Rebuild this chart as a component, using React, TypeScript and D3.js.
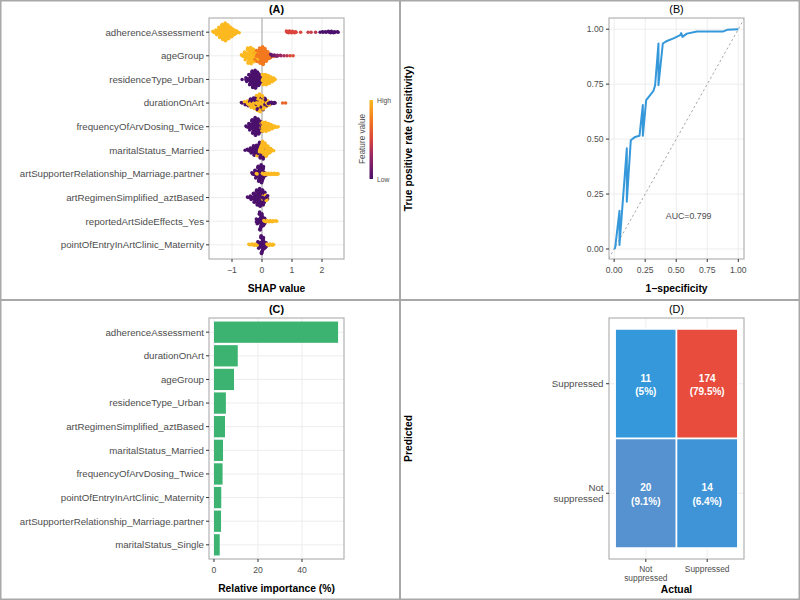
import React from "react";
import * as d3 from "d3";

const FONT = "'Liberation Sans', Arial, Helvetica, sans-serif";

// ---------- Panel A: SHAP beeswarm ----------
type Bin = [number, number, number]; // [shap value, count, feature value 0..1]

const shapFeatures = [
  "adherenceAssessment",
  "ageGroup",
  "residenceType_Urban",
  "durationOnArt",
  "frequencyOfArvDosing_Twice",
  "maritalStatus_Married",
  "artSupporterRelationship_Marriage.partner",
  "artRegimenSimplified_aztBased",
  "reportedArtSideEffects_Yes",
  "pointOfEntryInArtClinic_Maternity",
];

const shapAdherence: Bin[] = [
  [-1.6, 3, 1], [-1.5, 8, 1], [-1.4, 16, 1], [-1.3, 22, 1], [-1.2, 26, 1],
  [-1.1, 20, 1], [-1.0, 14, 1], [-0.9, 7, 1], [-0.8, 3, 1],
  [0.85, 4, 0.5], [0.95, 4, 0.5], [1.05, 3, 0.5], [1.15, 2, 0.5], [1.3, 1, 0.5],
  [1.55, 1, 0.45], [1.65, 1, 0.45], [1.8, 1, 0.4],
  [1.95, 1, 0], [2.05, 2, 0], [2.15, 2, 0], [2.25, 3, 0], [2.35, 3, 0], [2.45, 2, 0], [2.55, 2, 0],
];
const shapAgeGroup: Bin[] = [
  [-0.65, 4, 1], [-0.55, 12, 1], [-0.45, 22, 1], [-0.35, 24, 1], [-0.25, 14, 1],
  [-0.25, 4, 0.75], [-0.15, 5, 1], [-0.15, 12, 0.75], [-0.05, 22, 0.75], [0.05, 26, 0.75],
  [0.15, 16, 0.75], [0.25, 6, 0.75], [0.25, 2, 0.1], [0.35, 3, 0.1], [0.35, 1, 0.75],
  [0.45, 3, 0.15], [0.55, 2, 0.25], [0.65, 2, 0.3], [0.75, 1, 0.35], [0.85, 1, 0.4],
  [0.95, 1, 0.5], [1.05, 1, 0.55],
];
const shapResidence: Bin[] = [
  [-0.65, 1, 0], [-0.5, 6, 0], [-0.4, 16, 0], [-0.3, 24, 0], [-0.2, 26, 0], [-0.1, 18, 0], [0.0, 6, 0],
  [0.05, 16, 1], [0.15, 16, 1], [0.25, 12, 1], [0.35, 7, 1], [0.45, 2, 1],
];
const shapDuration: Bin[] = [
  [-0.65, 2, 0], [-0.55, 3, 0], [-0.45, 4, 0], [-0.35, 5, 0], [-0.25, 6, 0], [-0.15, 6, 0],
  [-0.05, 6, 0], [0.05, 6, 0], [0.15, 5, 0], [0.25, 4, 0], [0.35, 3, 0], [0.45, 2, 0],
  [-0.55, 2, 1], [-0.45, 4, 1], [-0.35, 8, 1], [-0.25, 10, 1], [-0.15, 16, 1], [-0.05, 20, 1],
  [0.05, 14, 1], [0.15, 6, 1], [0.25, 2, 1],
  [0.7, 1, 0.65], [0.8, 1, 0.65],
];
const shapFrequency: Bin[] = [
  [-0.5, 3, 0], [-0.4, 10, 0], [-0.3, 20, 0], [-0.2, 26, 0], [-0.1, 22, 0], [0.0, 10, 0], [0.0, 4, 1],
  [0.05, 14, 1], [0.15, 14, 1], [0.25, 10, 1], [0.35, 6, 1], [0.45, 3, 1], [0.55, 1, 1],
];
const shapMarried: Bin[] = [
  [-0.55, 1, 0], [-0.45, 4, 0], [-0.35, 8, 0], [-0.25, 14, 0], [-0.15, 14, 0], [-0.05, 8, 0],
  [0.05, 3, 0], [0.15, 1, 0],
  [-0.15, 2, 1], [-0.05, 14, 1], [0.05, 22, 1], [0.15, 16, 1], [0.25, 8, 1], [0.35, 3, 1],
];
const shapSupporter: Bin[] = [
  [-0.3, 4, 0], [-0.2, 12, 0], [-0.1, 22, 0], [0.0, 26, 0], [0.1, 6, 0],
  [-0.15, 2, 1], [0.05, 3, 1], [0.15, 3, 1], [0.25, 3, 1], [0.35, 3, 1], [0.45, 3, 1], [0.55, 2, 1],
];
const shapRegimen: Bin[] = [
  [-0.45, 2, 0], [-0.35, 6, 0], [-0.25, 14, 0], [-0.15, 22, 0], [-0.05, 26, 0], [0.05, 20, 0], [0.15, 6, 0],
  [0.05, 2, 1], [0.15, 3, 1],
];
const shapSideEffects: Bin[] = [
  [-0.15, 8, 0], [-0.05, 26, 0], [0.05, 14, 0],
  [0.1, 3, 1], [0.2, 3, 1], [0.3, 3, 1], [0.4, 2, 1], [0.5, 2, 1],
];
const shapMaternity: Bin[] = [
  [-0.1, 10, 0], [0.0, 26, 0], [0.1, 10, 0],
  [-0.4, 2, 1], [-0.3, 3, 1], [-0.2, 3, 1], [0.2, 3, 1], [0.3, 3, 1], [0.4, 2, 1],
];
const shapRows: Bin[][] = [
  shapAdherence, shapAgeGroup, shapResidence, shapDuration, shapFrequency,
  shapMarried, shapSupporter, shapRegimen, shapSideEffects, shapMaternity,
];
const shapTicks = [-1, 0, 1, 2];

// ---------- Panel B: ROC ----------
const rocFpr = [0, 0.008, 0.043, 0.043, 0.102, 0.102, 0.134, 0.169, 0.204, 0.231, 0.231, 0.258, 0.29, 0.317, 0.33, 0.357, 0.357, 0.392, 0.42, 0.478, 0.532, 0.54, 0.55, 0.586, 0.667, 0.88, 0.91, 1.0];
const rocTpr = [0, 0.005, 0.174, 0.018, 0.458, 0.215, 0.495, 0.51, 0.515, 0.655, 0.515, 0.677, 0.7, 0.72, 0.745, 0.935, 0.745, 0.935, 0.945, 0.958, 0.973, 0.982, 0.965, 0.98, 0.99, 0.99, 0.997, 1.0];
const rocTicks = [0, 0.25, 0.5, 0.75, 1];
const aucLabel = "AUC=0.799";

// ---------- Panel C: importance ----------
const impFeatures = [
  "adherenceAssessment",
  "durationOnArt",
  "ageGroup",
  "residenceType_Urban",
  "artRegimenSimplified_aztBased",
  "maritalStatus_Married",
  "frequencyOfArvDosing_Twice",
  "pointOfEntryInArtClinic_Maternity",
  "artSupporterRelationship_Marriage.partner",
  "maritalStatus_Single",
];
const impValues = [56.4, 10.8, 9.1, 5.4, 5.0, 4.1, 3.9, 3.3, 3.2, 2.6];
const impTicks = [0, 20, 40];

// ---------- Panel D: confusion matrix ----------
const cmActual = ["Not suppressed", "Suppressed"];
const cmPredicted = ["Not suppressed", "Suppressed"];
const cmCellActual = [0, 1, 0, 1];
const cmCellPredicted = [1, 1, 0, 0];
const cmCounts = [11, 174, 20, 14];
const cmPercents = ["5%", "79.5%", "9.1%", "6.4%"];
const cmFills = ["#3498db", "#e74c3c", "#5592cf", "#3f94d8"];

// ---------- styles ----------
const featureColor = d3
  .scaleLinear<string>()
  .domain([0, 0.3, 0.5, 0.75, 1])
  .range(["#4b116c", "#9a2865", "#d9443d", "#f3791f", "#fcb920"]);

const GRID = "#ebebeb";
const BORDER = "#b3b3b3";
const TICKTXT = "#4d4d4d";

function layoutRow(bins: Bin[]) {
  const groups = d3.groups(bins, (b) => b[0]);
  const maxN = d3.max(groups, (g) => d3.sum(g[1], (b) => b[1])) || 1;
  const dots: { x: number; dy: number; v: number }[] = [];
  groups.forEach(([x, entries]) => {
    const N = d3.sum(entries, (e) => e[1]);
    const h = (9.2 * N) / maxN;
    const assigned = entries.map(() => 0);
    for (let k = 0; k < N; k++) {
      let best = 0;
      let bestD = -Infinity;
      entries.forEach((e, i) => {
        const d = ((k + 1) * e[1]) / N - assigned[i];
        if (d > bestD) {
          bestD = d;
          best = i;
        }
      });
      assigned[best]++;
      const fy = N === 1 ? 0.5 : (k * 0.6180339887 + 0.5) % 1;
      const fx = (k * 0.7548776662 + 0.37) % 1;
      dots.push({ x: x + (fx - 0.5) * 0.1, dy: (fy * 2 - 1) * h, v: entries[best][2] });
    }
  });
  return dots;
}

const PanelA = () => {
  const L = 209, R = 344, T = 18, B = 259;
  const x = d3.scaleLinear().domain([-1.767, 2.733]).range([L, R]);
  const y = d3.scalePoint<string>().domain(shapFeatures).range([T, B]).padding(0.6);
  const grad = featureColor.domain();
  return (
    <g>
      <text x={(L + R) / 2} y={13} textAnchor="middle" fontWeight="bold" fontSize={10.8} fill="#000">(A)</text>
      <rect x={L} y={T} width={R - L} height={B - T} fill="#fff" />
      {shapTicks.map((t) => (
        <line key={t} x1={x(t)} x2={x(t)} y1={T} y2={B} stroke={GRID} strokeWidth={0.9} />
      ))}
      {shapFeatures.map((f) => (
        <line key={f} x1={L} x2={R} y1={y(f)} y2={y(f)} stroke={GRID} strokeWidth={0.9} />
      ))}
      <line x1={x(0)} x2={x(0)} y1={T} y2={B} stroke="#9e9e9e" strokeWidth={0.9} />
      {shapRows.map((row, i) => {
        const cy = y(shapFeatures[i]) as number;
        return (
          <g key={i}>
            {layoutRow(row).map((d, j) => (
              <circle key={j} cx={x(d.x)} cy={cy + d.dy} r={1.75} fill={featureColor(d.v)} />
            ))}
          </g>
        );
      })}
      <rect x={L} y={T} width={R - L} height={B - T} fill="none" stroke={BORDER} strokeWidth={1.2} />
      {shapFeatures.map((f) => (
        <g key={f}>
          <line x1={L - 3} x2={L} y1={y(f)} y2={y(f)} stroke="#333" strokeWidth={1} />
          <text x={L - 5} y={(y(f) as number) + 3.4} textAnchor="end" fontSize={9.7} fill={TICKTXT}>{f}</text>
        </g>
      ))}
      {shapTicks.map((t) => (
        <g key={t}>
          <line x1={x(t)} x2={x(t)} y1={B} y2={B + 3} stroke="#333" strokeWidth={1} />
          <text x={x(t)} y={273} textAnchor="middle" fontSize={8.6} fill={TICKTXT}>{t < 0 ? "\u2212" + Math.abs(t) : t}</text>
        </g>
      ))}
      <text x={(L + R) / 2} y={292} textAnchor="middle" fontWeight="bold" fontSize={10.3} fill="#000">SHAP value</text>
      {/* legend */}
      <defs>
        <linearGradient id="fvGrad" x1="0" y1="1" x2="0" y2="0">
          {grad.map((g) => (
            <stop key={g} offset={g} stopColor={featureColor(g)} />
          ))}
        </linearGradient>
      </defs>
      <rect x={369.5} y={100} width={3.5} height={79} fill="url(#fvGrad)" />
      <text x={377} y={102.5} fontSize={6.8} fill={TICKTXT}>High</text>
      <text x={377} y={182} fontSize={6.8} fill={TICKTXT}>Low</text>
      <text transform="translate(364.5,139) rotate(-90)" textAnchor="middle" fontSize={8.2} fill={TICKTXT}>Feature value</text>
    </g>
  );
};

const PanelB = () => {
  const L = 609, R = 744, T = 18, B = 259;
  const x = d3.scaleLinear().domain([-0.0415, 1.046]).range([L, R]);
  const y = d3.scaleLinear().domain([-0.0455, 1.051]).range([B, T]);
  const pts = rocFpr.map((f, i) => [f, rocTpr[i]] as [number, number]);
  const line = d3.line<[number, number]>().x((d) => x(d[0])).y((d) => y(d[1]));
  const diag: [number, number][] = [[-0.1, -0.1], [1.1, 1.1]];
  return (
    <g>
      <defs>
        <clipPath id="clipB">
          <rect x={L} y={T} width={R - L} height={B - T} />
        </clipPath>
      </defs>
      <text x={(L + R) / 2} y={13} textAnchor="middle" fontSize={10.8} fill="#000">(B)</text>
      <rect x={L} y={T} width={R - L} height={B - T} fill="#fff" />
      {rocTicks.map((t) => (
        <g key={t}>
          <line x1={x(t)} x2={x(t)} y1={T} y2={B} stroke={GRID} strokeWidth={0.9} />
          <line x1={L} x2={R} y1={y(t)} y2={y(t)} stroke={GRID} strokeWidth={0.9} />
        </g>
      ))}
      <g clipPath="url(#clipB)">
        <path d={line(diag) || ""} stroke="#8c8c8c" strokeWidth={0.8} strokeDasharray="2.2,2.6" fill="none" />
        <path d={line(pts) || ""} stroke="#3498db" strokeWidth={2} fill="none" strokeLinejoin="round" />
      </g>
      <text x={x(0.6)} y={y(0.15) + 3} textAnchor="middle" fontSize={8.8} fill={TICKTXT}>{aucLabel}</text>
      <rect x={L} y={T} width={R - L} height={B - T} fill="none" stroke={BORDER} strokeWidth={1.2} />
      {rocTicks.map((t) => (
        <g key={t}>
          <line x1={L - 3} x2={L} y1={y(t)} y2={y(t)} stroke="#333" strokeWidth={1} />
          <text x={L - 5.5} y={y(t) + 3} textAnchor="end" fontSize={8.6} fill={TICKTXT}>{t.toFixed(2)}</text>
          <line x1={x(t)} x2={x(t)} y1={B} y2={B + 3} stroke="#333" strokeWidth={1} />
          <text x={x(t)} y={273} textAnchor="middle" fontSize={8.6} fill={TICKTXT}>{t.toFixed(2)}</text>
        </g>
      ))}
      <text x={(L + R) / 2} y={292} textAnchor="middle" fontWeight="bold" fontSize={10.3} fill="#000">1{"\u2212"}specificity</text>
      <text transform={`translate(412,${(T + B) / 2}) rotate(-90)`} textAnchor="middle" fontWeight="bold" fontSize={10.3} fill="#000">True positive rate (sensitivity)</text>
    </g>
  );
};

const PanelC = () => {
  const L = 209, R = 344, T = 318, B = 559;
  const x = d3.scaleLinear().domain([-2.27, 59.09]).range([L, R]);
  const y = d3.scalePoint<string>().domain(impFeatures).range([T, B]).padding(0.6);
  const bh = y.step() * 0.9;
  return (
    <g>
      <text x={(L + R) / 2} y={313} textAnchor="middle" fontWeight="bold" fontSize={10.8} fill="#000">(C)</text>
      <rect x={L} y={T} width={R - L} height={B - T} fill="#fff" />
      {impTicks.map((t) => (
        <line key={t} x1={x(t)} x2={x(t)} y1={T} y2={B} stroke={GRID} strokeWidth={0.9} />
      ))}
      {impFeatures.map((f) => (
        <line key={f} x1={L} x2={R} y1={y(f)} y2={y(f)} stroke={GRID} strokeWidth={0.9} />
      ))}
      {impFeatures.map((f, i) => (
        <rect key={f} x={x(0)} y={(y(f) as number) - bh / 2} width={x(impValues[i]) - x(0)} height={bh} fill="#3cb371" />
      ))}
      <rect x={L} y={T} width={R - L} height={B - T} fill="none" stroke={BORDER} strokeWidth={1.2} />
      {impFeatures.map((f) => (
        <g key={f}>
          <line x1={L - 3} x2={L} y1={y(f)} y2={y(f)} stroke="#333" strokeWidth={1} />
          <text x={L - 5} y={(y(f) as number) + 3.4} textAnchor="end" fontSize={9.7} fill={TICKTXT}>{f}</text>
        </g>
      ))}
      {impTicks.map((t) => (
        <g key={t}>
          <line x1={x(t)} x2={x(t)} y1={B} y2={B + 3} stroke="#333" strokeWidth={1} />
          <text x={x(t)} y={573} textAnchor="middle" fontSize={8.6} fill={TICKTXT}>{t}</text>
        </g>
      ))}
      <text x={(L + R) / 2} y={592} textAnchor="middle" fontWeight="bold" fontSize={10.3} fill="#000">Relative importance (%)</text>
    </g>
  );
};

const PanelD = () => {
  const L = 609, R = 744, T = 318, B = 559;
  const x = d3.scalePoint<number>().domain([0, 1]).range([L, R]).padding(0.6);
  const y = d3.scalePoint<number>().domain([1, 0]).range([T, B]).padding(0.6);
  const tw = x.step();
  const th = y.step();
  return (
    <g>
      <text x={(L + R) / 2} y={313} textAnchor="middle" fontSize={10.8} fill="#000">(D)</text>
      <rect x={L} y={T} width={R - L} height={B - T} fill="#fff" />
      {[0, 1].map((t) => (
        <g key={t}>
          <line x1={x(t)} x2={x(t)} y1={T} y2={B} stroke={GRID} strokeWidth={0.9} />
          <line x1={L} x2={R} y1={y(t)} y2={y(t)} stroke={GRID} strokeWidth={0.9} />
        </g>
      ))}
      {cmCounts.map((n, i) => {
        const cx = x(cmCellActual[i]) as number;
        const cy = y(cmCellPredicted[i]) as number;
        return (
          <g key={i}>
            <rect x={cx - tw / 2} y={cy - th / 2} width={tw} height={th} fill={cmFills[i]} stroke="#fff" strokeWidth={1.6} />
            <text x={cx} y={cy - 2} textAnchor="middle" fontWeight="bold" fontSize={10} fill="#fff">{n}</text>
            <text x={cx} y={cy + 11.5} textAnchor="middle" fontWeight="bold" fontSize={10} fill="#fff">({cmPercents[i]})</text>
          </g>
        );
      })}
      <rect x={L} y={T} width={R - L} height={B - T} fill="none" stroke={BORDER} strokeWidth={1.2} />
      {cmPredicted.map((lab, i) => {
        const cy = y(i) as number;
        const parts = lab === "Not suppressed" ? ["Not", "suppressed"] : [lab];
        return (
          <g key={lab}>
            <line x1={L - 3} x2={L} y1={cy} y2={cy} stroke="#333" strokeWidth={1} />
            {parts.map((p, k) => (
              <text key={k} x={L - 5.5} y={cy + 3.4 + (k - (parts.length - 1) / 2) * 10.5} textAnchor="end" fontSize={9.7} fill={TICKTXT}>{p}</text>
            ))}
          </g>
        );
      })}
      {cmActual.map((lab, i) => {
        const cx = x(i) as number;
        const parts = lab === "Not suppressed" ? ["Not", "suppressed"] : [lab];
        return (
          <g key={lab}>
            <line x1={cx} x2={cx} y1={B} y2={B + 3} stroke="#333" strokeWidth={1} />
            {parts.map((p, k) => (
              <text key={k} x={cx} y={572 + k * 8.8} textAnchor="middle" fontSize={8.4} fill={TICKTXT}>{p}</text>
            ))}
          </g>
        );
      })}
      <text x={(L + R) / 2} y={593} textAnchor="middle" fontWeight="bold" fontSize={10.3} fill="#000">Actual</text>
      <text transform={`translate(412,${(T + B) / 2}) rotate(-90)`} textAnchor="middle" fontWeight="bold" fontSize={10.3} fill="#000">Predicted</text>
    </g>
  );
};

export default function App() {
  return (
    <div style={{ position: "fixed", left: 0, top: 0 }}>
      <svg width={800} height={600} style={{ display: "block", fontFamily: FONT }}>
        <rect x={0} y={0} width={800} height={600} fill="#fff" />
        <PanelA />
        <PanelB />
        <PanelC />
        <PanelD />
        <rect x={0.75} y={0.75} width={798.5} height={598.5} fill="none" stroke="#a8a8a8" strokeWidth={1.5} />
        <line x1={400} x2={400} y1={0} y2={600} stroke="#a8a8a8" strokeWidth={2} />
        <line x1={0} x2={800} y1={300} y2={300} stroke="#a8a8a8" strokeWidth={2} />
      </svg>
    </div>
  );
}
